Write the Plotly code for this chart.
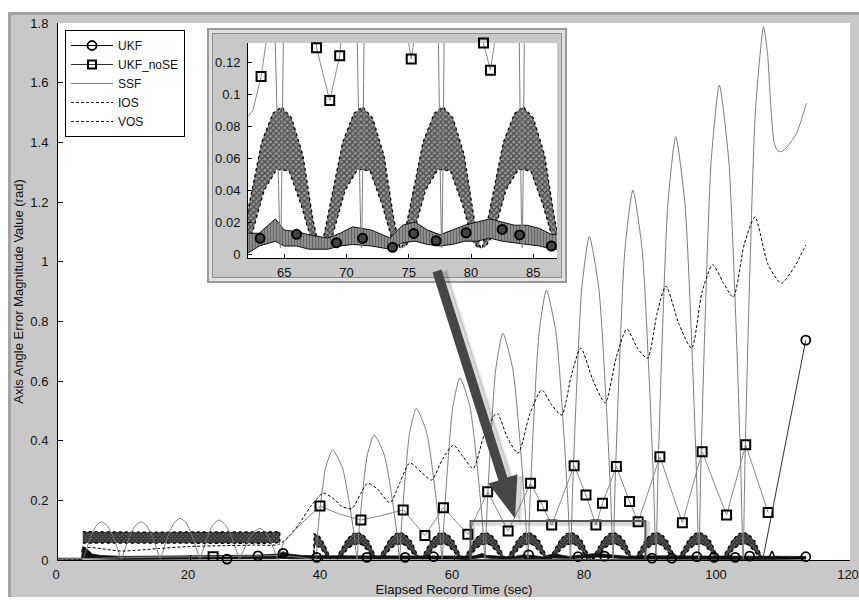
import plotly.graph_objects as go

# ---------------- figure geometry (pixels) ----------------
W, H = 859, 600
ML, MR, MT, MB = 58, 9, 23, 40
PW, PH = W - ML - MR, H - MT - MB


def pxx(x):
    return (x - ML) / PW


def pxy(y):
    return (H - MB - y) / PH


# ---------------- axis ticks ----------------
x_ticks = [0, 20, 40, 60, 80, 100, 120]
y_ticks = [0, 0.2, 0.4, 0.6, 0.8, 1.0, 1.2, 1.4, 1.6, 1.8]
inset_x_ticks = [65, 70, 75, 80, 85]
inset_y_ticks = [0, 0.02, 0.04, 0.06, 0.08, 0.1, 0.12]
series_names = ["UKF", "UKF_noSE", "SSF", "IOS", "VOS"]

# ---------------- SSF (grey solid) ----------------
ssf_x = [0, 3.7, 3.8, 4.22, 4.92, 5.76, 6.6, 7.5, 8.4, 9.15, 9.6,
         10.05, 10.8, 11.7, 12.6, 13.47, 14.34, 15.07, 15.5,
         15.95, 16.7, 17.6, 18.5, 19.4, 20.3, 21.05, 21.5,
         21.94, 22.66, 23.53, 24.4, 25.33, 26.26, 27.04, 27.5,
         27.97, 28.74, 29.67, 30.6, 31.41, 32.22, 32.9, 33.3,
         35.0, 37.0, 39.0,
         39.26, 39.78, 40.56, 41.6, 43.08, 44.19, 44.93, 45.3,
         45.56, 46.08, 46.86, 47.9, 49.44, 50.6, 51.37, 51.75,
         52.0, 52.52, 53.28, 54.3, 55.86, 57.03, 57.81, 58.2,
         58.47, 59.01, 59.82, 60.9, 62.42, 63.56, 64.32, 64.7,
         64.97, 65.51, 66.32, 67.4, 68.92, 70.06, 70.82, 71.2,
         71.48, 72.04, 72.88, 74.0, 75.46, 76.56, 77.29, 77.65,
         77.94, 78.51, 79.36, 80.5, 81.94, 83.02, 83.74, 84.1,
         84.4, 85.0, 85.9, 87.1, 88.5, 89.55, 90.25, 90.6,
         90.9, 91.5, 92.4, 93.6, 95.0, 96.05, 96.75, 97.1,
         97.41, 98.03, 98.96, 100.2, 101.64, 102.72, 103.44, 103.8,
         104.11, 104.73, 105.66, 106.9, 107.5, 108.0, 108.5, 109.0, 109.6, 110.5, 111.9, 112.7, 113.4]
ssf_y = [0.003, 0.003, 0.004, 0.030, 0.075, 0.114, 0.128, 0.114, 0.075, 0.030, 0.004,
         0.030, 0.075, 0.114, 0.128, 0.114, 0.075, 0.030, 0.004,
         0.033, 0.082, 0.125, 0.140, 0.125, 0.082, 0.033, 0.004,
         0.031, 0.079, 0.119, 0.134, 0.119, 0.079, 0.031, 0.004,
         0.025, 0.062, 0.094, 0.106, 0.094, 0.062, 0.025, 0.004,
         0.012, 0.008, 0.004,
         0.074, 0.185, 0.310, 0.369, 0.310, 0.185, 0.074, 0.004,
         0.084, 0.210, 0.352, 0.419, 0.352, 0.210, 0.084, 0.004,
         0.102, 0.254, 0.427, 0.508, 0.427, 0.254, 0.102, 0.004,
         0.122, 0.306, 0.513, 0.611, 0.513, 0.306, 0.122, 0.004,
         0.152, 0.380, 0.638, 0.760, 0.638, 0.380, 0.152, 0.004,
         0.181, 0.453, 0.760, 0.905, 0.760, 0.453, 0.181, 0.004,
         0.217, 0.542, 0.911, 1.084, 0.911, 0.542, 0.217, 0.004,
         0.248, 0.620, 1.042, 1.240, 1.042, 0.620, 0.248, 0.004,
         0.284, 0.710, 1.192, 1.419, 1.192, 0.710, 0.284, 0.004,
         0.318, 0.796, 1.337, 1.592, 1.337, 0.796, 0.318, 0.004,
         0.358, 0.894, 1.502, 1.788, 1.70, 1.52, 1.40, 1.372, 1.369, 1.385, 1.43, 1.48, 1.531]

# ---------------- IOS (dashed) ----------------
ios_x = [0, 3.6, 3.7, 9.6, 15, 19.7, 25, 29.8, 33.4,
         35.0, 36.5, 38.3, 40.2, 41.8, 43.0, 44.5, 45.8, 46.9, 48.3,
         50.3, 51.8, 53.3, 55.0, 56.6, 58.3, 59.9, 61.4, 62.9, 64.6,
         66.5, 68.1, 69.7, 71.5, 73.3, 74.8, 76.3, 77.8, 79.2, 81.1,
         82.9, 84.6, 86.2, 87.8, 89.3, 90.8, 92.1, 94.1, 96.0, 97.6,
         99.2, 100.8, 102.3, 104.0, 105.6, 107.6, 109.6, 111.5, 113.3]
ios_y = [0.004, 0.005, 0.040, 0.030, 0.038, 0.045, 0.048, 0.050, 0.052,
         0.080, 0.120, 0.180, 0.224, 0.205, 0.180, 0.172, 0.220, 0.257, 0.240,
         0.192, 0.260, 0.325, 0.295, 0.268, 0.340, 0.385, 0.345, 0.307, 0.420,
         0.492, 0.410, 0.358, 0.490, 0.570, 0.520, 0.486, 0.620, 0.710, 0.600,
         0.527, 0.680, 0.774, 0.710, 0.676, 0.830, 0.918, 0.790, 0.710, 0.900,
         0.989, 0.930, 0.881, 1.060, 1.149, 0.990, 0.928, 0.980, 1.056]

# ---------------- UKF_noSE (grey line, square markers) ----------------
nose_x = [0, 3.7, 10, 16, 23.5, 30, 33.5, 34.2, 36.8, 39.7, 42.5, 45.9, 49.2, 52.3, 55.6,
          58.4, 62.1, 65.1, 68.2, 71.6, 73.4, 74.8, 78.2, 80.0, 81.5, 82.5, 84.6, 86.6,
          87.9, 91.2, 94.6, 97.6, 101.3, 104.2, 107.6]
nose_y = [0.003, 0.005, 0.008, 0.010, 0.011, 0.012, 0.015, 0.060, 0.120, 0.181, 0.155, 0.134, 0.150,
          0.168, 0.082, 0.175, 0.086, 0.229, 0.097, 0.257, 0.182, 0.117, 0.316, 0.218, 0.117,
          0.190, 0.313, 0.196, 0.128, 0.346, 0.125, 0.363, 0.151, 0.386, 0.159]
nose_mx = [23.5, 39.7, 45.9, 52.3, 55.6, 58.4, 62.1, 65.1, 68.2, 71.6, 73.4, 74.8, 78.2, 80.0,
           81.5, 82.5, 84.6, 86.6, 87.9, 91.2, 94.6, 97.6, 101.3, 104.2, 107.6]
nose_my = [0.011, 0.181, 0.134, 0.168, 0.082, 0.175, 0.086, 0.229, 0.097, 0.257, 0.182, 0.117,
           0.316, 0.218, 0.117, 0.190, 0.313, 0.196, 0.128, 0.346, 0.125, 0.363, 0.151, 0.386, 0.159]

# ---------------- UKF (black, circle markers, noisy near zero) ----------------
ukf_mx = [25.6, 30.3, 34.1, 39.2, 46.8, 52.6, 56.9, 71.3, 78.8, 82.8, 90.0, 93.0, 96.8,
          99.4, 102.6, 104.8, 113.3, 113.3]
ukf_my = [0.003, 0.014, 0.022, 0.009, 0.009, 0.009, 0.011, 0.017, 0.011, 0.013, 0.006, 0.006,
          0.011, 0.009, 0.009, 0.013, 0.011, 0.737]
ukf_tail_x = [106.8, 113.3]
ukf_tail_y = [0.003, 0.737]
ukf_band_x = [0, 3.6, 3.75, 4.5, 5.2, 6.5, 10, 15, 20, 25, 30, 33.3, 34.1, 35, 37, 40, 45, 50,
              55, 60, 62.2, 63, 64.3, 65, 66, 67, 68.5, 69.5, 70.5, 72, 73.5, 74.5, 75.5, 76.5,
              77.5, 78.5, 79.5, 80.5, 81.5, 82.5, 83.5, 84.5, 85.5, 86.5, 88, 90, 95, 100, 105,
              108, 111, 113.3]
ukf_band_lo = [0.0, 0.0, 0.004, 0.004, 0.003, 0.003, 0.002, 0.003, 0.003, 0.003, 0.004, 0.004,
               0.006, 0.004, 0.003, 0.003, 0.003, 0.003, 0.003, 0.003, 0.001, 0.005, 0.008,
               0.005, 0.005, 0.003, 0.003, 0.005, 0.006, 0.005, 0.003, 0.007, 0.008, 0.006,
               0.005, 0.006, 0.008, 0.008, 0.010, 0.008, 0.007, 0.006, 0.005, 0.003, 0.003,
               0.002, 0.002, 0.002, 0.002, 0.002, 0.002, 0.003]
ukf_band_hi = [0.006, 0.006, 0.045, 0.035, 0.020, 0.015, 0.012, 0.013, 0.014, 0.014, 0.016,
               0.020, 0.028, 0.020, 0.015, 0.014, 0.014, 0.014, 0.015, 0.015, 0.013, 0.013,
               0.022, 0.015, 0.014, 0.012, 0.010, 0.013, 0.017, 0.015, 0.010, 0.018, 0.020,
               0.015, 0.012, 0.015, 0.018, 0.020, 0.022, 0.020, 0.018, 0.018, 0.016, 0.012,
               0.014, 0.014, 0.014, 0.014, 0.013, 0.012, 0.012, 0.012]

# ---------------- VOS (dense dotted band / arches) ----------------
vos_block_x = [3.75, 8, 14, 20, 26, 31, 33.6]
vos_block_hi = [0.095, 0.094, 0.093, 0.094, 0.093, 0.094, 0.095]
vos_block_lo = [0.057, 0.056, 0.055, 0.055, 0.056, 0.056, 0.058]
vos_first_up_x = [38.75, 38.8, 39.5, 40.3, 40.9, 41.3]
vos_first_up_y = [0.004, 0.087, 0.082, 0.055, 0.025, 0.004]
vos_first_lo_x = [38.8, 38.85, 39.8, 40.6, 41.3]
vos_first_lo_y = [0.004, 0.050, 0.040, 0.015, 0.004]
vos_arch_centres = [45.3, 51.75, 58.2, 64.7, 71.2, 77.65, 84.1, 90.6, 97.1, 103.8]
vos_up_dx = [-3.2, -2.4, -1.5, -0.6, 0.1, 0.9, 1.8, 2.6, 3.1]
vos_up_y = [0.004, 0.035, 0.070, 0.088, 0.092, 0.085, 0.062, 0.022, 0.004]
vos_lo_dx = [-3.0, -2.3, -1.3, -0.3, 0.7, 1.7, 2.5, 2.9]
vos_lo_y = [0.004, 0.012, 0.040, 0.053, 0.052, 0.030, 0.008, 0.004]
vos_tail_x = [107.0, 107.8, 108.2, 108.6, 109.5, 111.0, 113.3]
vos_tail_y = [0.005, 0.012, 0.030, 0.010, 0.008, 0.006, 0.008]

# ---------------- inset-only markers ----------------
inset_nose_x = [61.8, 62.1, 62.5, 63.15, 63.6, 64.0, 67.2, 67.6, 68.66, 69.46, 69.8, 74.4,
                75.2, 75.9, 80.9, 81.0, 81.56, 81.9, 82.1, 87.0]
inset_nose_y = [0.090, 0.086, 0.090, 0.111, 0.135, 0.180, 0.180, 0.129, 0.096, 0.124, 0.160,
                0.160, 0.122, 0.160, 0.160, 0.132, 0.115, 0.133, 0.160, 0.160]
inset_nose_mx = [63.15, 67.6, 68.66, 69.46, 75.2, 81.0, 81.56, 81.9]
inset_nose_my = [0.111, 0.129, 0.096, 0.124, 0.122, 0.132, 0.115, 0.133]
inset_ukf_mx = [63.07, 66.0, 69.2, 71.3, 73.7, 75.4, 77.2, 79.6, 82.5, 83.9, 86.45]
inset_ukf_my = [0.0098, 0.0123, 0.0071, 0.0098, 0.0042, 0.0129, 0.0083, 0.0133, 0.0154,
                0.0119, 0.0050]

inset_x_range = [62.1, 86.9]
inset_y_range = [-0.0025, 0.132]
zoom_box_x = [62.5, 89.0]
zoom_box_y = [0.0, 0.131]

# ---------------- build polygons ----------------
vos_poly_x = vos_block_x + vos_block_x[::-1] + [None]
vos_poly_y = vos_block_hi + vos_block_lo[::-1] + [None]
vos_poly_x += vos_first_up_x + vos_first_lo_x[::-1] + [None]
vos_poly_y += vos_first_up_y + vos_first_lo_y[::-1] + [None]
for c in vos_arch_centres:
    vos_poly_x += [c + d for d in vos_up_dx] + [c + d for d in vos_lo_dx[::-1]] + [None]
    vos_poly_y += vos_up_y + vos_lo_y[::-1] + [None]

ukf_poly_x = ukf_band_x + ukf_band_x[::-1]
ukf_poly_y = ukf_band_hi + ukf_band_lo[::-1]

SSF_C = "#7c7c7c"
NOSE_C = "#8a8a8a"
DASH = "3px,2px"
FONT = "Arial, Liberation Sans, sans-serif"
FS = 13

fig = go.Figure()


def add_common(xa, ya, inset):
    # VOS dense band
    fig.add_trace(go.Scatter(
        x=vos_poly_x, y=vos_poly_y, xaxis=xa, yaxis=ya, mode="lines", fill="toself",
        line=dict(color="black", width=1.3 if inset else 1.4, dash="dot"),
        fillpattern=dict(shape="x", fgcolor="black", bgcolor="#9a9a9a" if inset else "#666",
                         size=4 if inset else 3, solidity=0.6 if inset else 0.7),
        showlegend=False, hoverinfo="skip"))
    # UKF noisy band
    if inset:
        fig.add_trace(go.Scatter(
            x=ukf_poly_x, y=ukf_poly_y, xaxis=xa, yaxis=ya, mode="lines", fill="toself",
            line=dict(color="#111", width=1),
            fillpattern=dict(shape="|", fgcolor="#111", bgcolor="#bbb", size=3, solidity=0.7),
            showlegend=False, hoverinfo="skip"))
    else:
        fig.add_trace(go.Scatter(
            x=ukf_poly_x, y=ukf_poly_y, xaxis=xa, yaxis=ya, mode="lines", fill="toself",
            line=dict(color="#111", width=0.8), fillcolor="#111",
            showlegend=False, hoverinfo="skip"))
    # SSF
    fig.add_trace(go.Scatter(x=ssf_x, y=ssf_y, xaxis=xa, yaxis=ya, mode="lines",
                             line=dict(color=SSF_C, width=1, shape="spline", smoothing=0.6),
                             showlegend=False, hoverinfo="skip"))


# ---- main plot ----
add_common("x", "y", False)
fig.add_trace(go.Scatter(x=vos_tail_x, y=vos_tail_y, mode="lines",
                         line=dict(color="black", width=1.5), showlegend=False, hoverinfo="skip"))
fig.add_trace(go.Scatter(x=ios_x, y=ios_y, mode="lines",
                         line=dict(color="black", width=1, dash=DASH, shape="spline", smoothing=0.7),
                         showlegend=False, hoverinfo="skip"))
fig.add_trace(go.Scatter(x=nose_x, y=nose_y, mode="lines",
                         line=dict(color=NOSE_C, width=1), showlegend=False, hoverinfo="skip"))
fig.add_trace(go.Scatter(x=nose_mx, y=nose_my, mode="markers",
                         marker=dict(symbol="square-open", size=9, color="black", line=dict(width=2)),
                         showlegend=False, hoverinfo="skip"))
fig.add_trace(go.Scatter(x=ukf_tail_x, y=ukf_tail_y, mode="lines",
                         line=dict(color="#333", width=1), showlegend=False, hoverinfo="skip"))
fig.add_trace(go.Scatter(x=ukf_mx, y=ukf_my, mode="markers",
                         marker=dict(symbol="circle-open", size=9, color="black", line=dict(width=1.8)),
                         showlegend=False, hoverinfo="skip", cliponaxis=False))

# ---- frame subplot (dummy) ----
fig.add_trace(go.Scatter(x=[None], y=[None], xaxis="x2", yaxis="y2", showlegend=False,
                         hoverinfo="skip"))

# ---- inset ----
add_common("x3", "y3", True)
fig.add_trace(go.Scatter(x=inset_nose_x, y=inset_nose_y, xaxis="x3", yaxis="y3", mode="lines",
                         line=dict(color=NOSE_C, width=1), showlegend=False, hoverinfo="skip"))
fig.add_trace(go.Scatter(x=inset_nose_mx, y=inset_nose_my, xaxis="x3", yaxis="y3", mode="markers",
                         marker=dict(symbol="square-open", size=9, color="black", line=dict(width=2)),
                         showlegend=False, hoverinfo="skip", cliponaxis=False))
fig.add_trace(go.Scatter(x=inset_ukf_mx, y=inset_ukf_my, xaxis="x3", yaxis="y3", mode="markers",
                         marker=dict(symbol="circle", size=9, color="#444",
                                     line=dict(width=2, color="black")),
                         showlegend=False, hoverinfo="skip"))

# ---- legend entries ----
legend_styles = [
    dict(mode="lines+markers", line=dict(color="black", width=1),
         marker=dict(symbol="circle-open", size=9, color="black", line=dict(width=1.8))),
    dict(mode="lines+markers", line=dict(color="#333", width=1),
         marker=dict(symbol="square-open", size=8, color="black", line=dict(width=2))),
    dict(mode="lines", line=dict(color=SSF_C, width=1)),
    dict(mode="lines", line=dict(color="black", width=1, dash=DASH)),
    dict(mode="lines", line=dict(color="black", width=1, dash=DASH)),
]
for name, st in zip(series_names, legend_styles):
    fig.add_trace(go.Scatter(x=[None], y=[None], name=name, showlegend=True, **st))

# ---------------- shapes ----------------
shapes = []
for x0, x1, y0, y1, col in [
    (0, W, 0, 12, "white"), (0, 8, 0, H, "white"), (0, W, 597, H, "white"),
    (8, W, 12, 15, "#a4a4a4"), (8, 11, 12, 597, "#a4a4a4")]:
    shapes.append(dict(type="rect", xref="paper", yref="paper", layer="below",
                       x0=pxx(x0), x1=pxx(x1), y0=pxy(y1), y1=pxy(y0),
                       fillcolor=col, line=dict(width=0)))
shapes.append(dict(type="rect", xref="paper", yref="paper", layer="below",
                   x0=pxx(851), x1=pxx(W + 2), y0=pxy(597), y1=pxy(15),
                   fillcolor="#c8c8c8", line=dict(width=0)))
FW, FH = 360, 255
for d, col in [(0, "#9a9a9a"), (2, "#e2e2e2"), (5, "#8e8e8e"), (6, "#c8c8c8")]:
    shapes.append(dict(type="rect", xref="x2", yref="y2", layer="below",
                       x0=d / FW, x1=1 - d / FW, y0=d / FH, y1=1 - d / FH,
                       fillcolor=col, line=dict(width=0)))
shapes.append(dict(type="rect", xref="x", yref="y", layer="above",
                   x0=zoom_box_x[0] + 0.35, x1=zoom_box_x[1] + 0.35,
                   y0=zoom_box_y[0] - 0.008, y1=zoom_box_y[1] - 0.008,
                   line=dict(color="rgba(0,0,0,0.15)", width=5)))
shapes.append(dict(type="rect", xref="x", yref="y", layer="above",
                   x0=zoom_box_x[0], x1=zoom_box_x[1], y0=zoom_box_y[0], y1=zoom_box_y[1],
                   line=dict(color="#555555", width=2)))


def poly_path(pts, dx=0, dy=0):
    return "M " + " L ".join(f"{pxx(x + dx):.5f},{pxy(y + dy):.5f}" for x, y in pts) + " Z"


arrow_pts = [(432.5, 272.5), (498.4, 480.4), (488.4, 483.5), (515, 518.5),
             (517.4, 474.3), (507.4, 477.4), (441.5, 269.5)]
shapes.append(dict(type="path", xref="paper", yref="paper", layer="above",
                   path=poly_path(arrow_pts, 5, 2), fillcolor="rgba(0,0,0,0.15)",
                   line=dict(width=3, color="rgba(0,0,0,0.08)")))
shapes.append(dict(type="path", xref="paper", yref="paper", layer="above",
                   path=poly_path(arrow_pts), fillcolor="#464646", line=dict(width=0)))

axis_common = dict(showline=True, linecolor="black", linewidth=1, ticks="inside",
                   tickcolor="black", ticklen=5, showgrid=False, zeroline=False,
                   automargin=False,
                   tickfont=dict(family=FONT, size=FS, color="#111"), fixedrange=True)

fig.update_layout(
    width=W, height=H, autosize=False,
    margin=dict(l=ML, r=MR, t=MT, b=MB, pad=0, autoexpand=False),
    paper_bgcolor="#c8c8c8", plot_bgcolor="white",
    font=dict(family=FONT, size=FS, color="#111"),
    xaxis=dict(domain=[0, 1], range=[0, 120], tickvals=x_ticks, anchor="y",
               ticklabelstandoff=2, ticklabeloverflow="allow", ticklabelshift=-2,
               title=dict(text="Elapsed Record Time (sec)", standoff=3,
                          font=dict(family=FONT, size=FS, color="#111")),
               **axis_common),
    yaxis=dict(domain=[0, 1], range=[0, 1.8], tickvals=y_ticks, anchor="x",
               ticklabelstandoff=6,
               title=dict(text="Axis Angle Error Magnitude Value (rad)", standoff=3,
                          font=dict(family=FONT, size=FS, color="#111")),
               **axis_common),
    xaxis2=dict(domain=[pxx(207), pxx(567)], range=[0, 1], anchor="y2", visible=False,
                fixedrange=True, automargin=False),
    yaxis2=dict(domain=[pxy(283), pxy(28)], range=[0, 1], anchor="x2", visible=False,
                fixedrange=True, automargin=False),
    xaxis3=dict(domain=[pxx(248), pxx(557)], range=inset_x_range, tickvals=inset_x_ticks,
                anchor="y3", ticklabelstandoff=2, **{**axis_common, "ticklen": 4}),
    yaxis3=dict(domain=[pxy(258), pxy(43)], range=inset_y_range, tickvals=inset_y_ticks,
                anchor="x3", ticklabelstandoff=4, **{**axis_common, "ticklen": 4}),
    shapes=shapes,
    showlegend=True,
    legend=dict(x=pxx(65), y=pxy(30), xanchor="left", yanchor="top",
                bgcolor="white", bordercolor="black", borderwidth=1,
                font=dict(family=FONT, size=12, color="#111"),
                tracegroupgap=0, itemwidth=42),
    hovermode=False,
)

fig.write_html("out.html", config={"displayModeBar": False})
